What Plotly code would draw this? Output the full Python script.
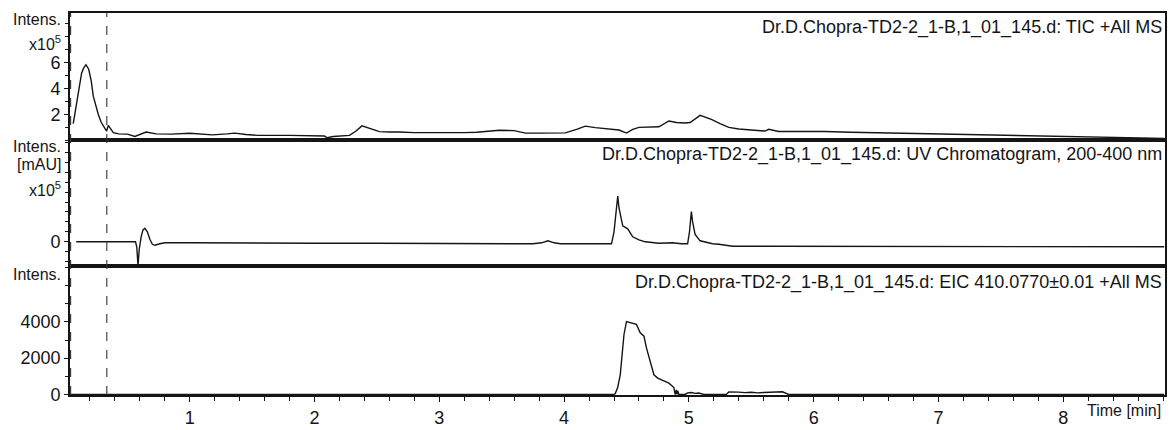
import plotly.graph_objects as go
from plotly.subplots import make_subplots

# ---------------- data ----------------
tic_time = [0.066, 0.08, 0.107, 0.133, 0.15, 0.168, 0.19, 0.21, 0.227, 0.25, 0.267, 0.29, 0.307, 0.333,
            0.347, 0.387, 0.43, 0.5, 0.56, 0.65, 0.73, 0.85, 1.0, 1.05, 1.18, 1.3, 1.36, 1.45, 1.55, 1.8,
            2.0, 2.08, 2.1, 2.15, 2.28, 2.33, 2.38, 2.45, 2.52, 2.6, 2.68, 2.8, 2.95, 3.08, 3.2, 3.3,
            3.4, 3.48, 3.6, 3.69, 3.8, 4.01, 4.1, 4.17, 4.25, 4.33, 4.44, 4.5, 4.55, 4.6, 4.7, 4.76,
            4.84, 4.9, 4.97, 5.01, 5.09, 5.14, 5.18, 5.25, 5.32, 5.4, 5.5, 5.61, 5.64, 5.68, 5.72,
            5.88, 6.09, 6.3, 6.5, 6.8, 7.03, 7.3, 7.67, 8.0, 8.3, 8.62, 8.81]
tic_int = [1.3, 2.1, 3.9, 5.2, 5.6, 5.85, 5.5, 4.6, 3.4, 2.5, 2.0, 1.4, 1.1, 0.72,
           1.15, 0.59, 0.5, 0.48, 0.3, 0.64, 0.5, 0.48, 0.55, 0.5, 0.42, 0.5, 0.56, 0.45, 0.38, 0.38,
           0.35, 0.33, 0.2, 0.3, 0.38, 0.7, 1.12, 0.9, 0.67, 0.64, 0.65, 0.6, 0.58, 0.56, 0.6, 0.62,
           0.72, 0.78, 0.75, 0.56, 0.56, 0.58, 0.85, 1.1, 0.98, 0.89, 0.8, 0.56, 0.85, 1.0, 1.0, 1.05,
           1.5, 1.38, 1.34, 1.38, 1.93, 1.78, 1.62, 1.3, 1.0, 0.88, 0.8, 0.72, 0.85, 0.78, 0.68,
           0.68, 0.68, 0.62, 0.58, 0.52, 0.48, 0.4, 0.33, 0.27, 0.22, 0.18, 0.15]

uv_time = [0.09, 0.3, 0.5, 0.565, 0.575, 0.585, 0.595, 0.61, 0.625, 0.64, 0.66, 0.68, 0.7, 0.72,
           0.76, 0.8, 1.0, 1.5, 2.0, 2.5, 3.0, 3.5, 3.75, 3.82, 3.87, 3.92, 3.97, 4.2, 4.38, 4.40,
           4.42, 4.43, 4.44, 4.46, 4.47, 4.51, 4.55, 4.6, 4.65, 4.76, 4.87, 4.94, 4.99, 5.005, 5.02,
           5.03, 5.05, 5.09, 5.19, 5.24, 5.35, 5.64, 6.0, 7.0, 8.0, 8.81]
uv_int = [0.0, 0.0, 0.0, 0.0, -0.1, -0.48, -0.15, 0.1, 0.24, 0.27, 0.2, 0.05, -0.05, -0.07,
          -0.04, -0.02, -0.02, -0.03, -0.03, -0.03, -0.03, -0.04, -0.04, -0.02, 0.02, -0.02, -0.04, -0.04, -0.04, 0.2,
          0.7, 0.92, 0.68, 0.4, 0.32, 0.26, 0.1, 0.04, 0.0, -0.03, -0.02, -0.04, -0.04, 0.2, 0.61,
          0.4, 0.15, 0.02, -0.04, -0.05, -0.09, -0.09, -0.09, -0.1, -0.1, -0.1]

eic_time = [0.04, 4.40, 4.41, 4.43, 4.45, 4.47, 4.48, 4.5, 4.53, 4.56, 4.58, 4.61, 4.64, 4.66, 4.69,
            4.72, 4.75, 4.78, 4.84, 4.88, 4.89, 4.9, 4.905, 4.91, 4.92, 4.97, 4.99, 5.02, 5.05, 5.08,
            5.12, 5.3, 5.32, 5.4, 5.45, 5.5, 5.55, 5.6, 5.65, 5.7, 5.75, 5.8, 6.0, 6.05, 6.1, 8.81]
eic_int = [0, 0, 50, 400, 1085, 2500, 3307, 4014, 3958, 3900, 3864, 3400, 3213, 2570, 1823,
           1085, 900, 806, 620, 380, 0, 250, 0, 200, 0, 0, 90, 110, 60, 80,
           0, 0, 140, 130, 100, 120, 90, 110, 130, 120, 150, 0, 0, 30, 0, 0]

x_ticks = [1, 2, 3, 4, 5, 6, 7, 8]
tic_ticks = [2, 4, 6]
uv_ticks = [0]
eic_ticks = [0, 2000, 4000]
marker_times = [0.045, 0.335]

titles = ["Dr.D.Chopra-TD2-2_1-B,1_01_145.d: TIC +All MS",
          "Dr.D.Chopra-TD2-2_1-B,1_01_145.d: UV Chromatogram, 200-400 nm",
          "Dr.D.Chopra-TD2-2_1-B,1_01_145.d: EIC 410.0770±0.01 +All MS"]

# ---------------- figure ----------------
FONT = "Liberation Sans, Arial, Helvetica, sans-serif"
INK = "#151515"
H_TOP, H_BOT = 13, 397
PH = H_BOT - H_TOP


def py(pix):
    return (H_BOT - pix) / PH


fig = make_subplots(rows=3, cols=1, shared_xaxes=True, vertical_spacing=0)
line = dict(color=INK, width=1.4)
fig.add_trace(go.Scatter(x=tic_time, y=tic_int, mode="lines", line=line, showlegend=False), row=1, col=1)
fig.add_trace(go.Scatter(x=uv_time, y=uv_int, mode="lines", line=line, showlegend=False), row=2, col=1)
fig.add_trace(go.Scatter(x=eic_time, y=eic_int, mode="lines", line=line, showlegend=False), row=3, col=1)

axis_common = dict(showline=True, linecolor=INK, linewidth=1.8, mirror=True, showgrid=False,
                   zeroline=False, tickfont=dict(family=FONT, size=18, color=INK))

fig.update_xaxes(range=[0.04, 8.816], **axis_common)
fig.update_xaxes(ticks="", showticklabels=False, row=1, col=1)
fig.update_xaxes(ticks="", showticklabels=False, row=2, col=1)
fig.update_xaxes(tickvals=x_ticks, ticktext=[str(v) for v in x_ticks], ticks="outside", ticklen=5,
                 tickwidth=1.3, tickcolor=INK,
                 minor=dict(dtick=0.2, tick0=0, ticks="outside", ticklen=4, tickwidth=1.2, tickcolor=INK),
                 row=3, col=1)

ycommon = dict(ticks="outside", ticklen=4, tickwidth=1.3, tickcolor=INK, **axis_common)
fig.update_yaxes(domain=[py(141), 1.0], range=[0, 9.85], tickvals=tic_ticks,
                 minor=dict(dtick=1, tick0=0, ticks="outside", ticklen=3, tickwidth=1.1, tickcolor=INK),
                 row=1, col=1, **ycommon)
fig.update_yaxes(domain=[py(267), py(141)], range=[-0.48, 2.04], tickvals=uv_ticks,
                 minor=dict(dtick=0.2, tick0=0, ticks="outside", ticklen=3, tickwidth=1.1, tickcolor=INK),
                 row=2, col=1, **ycommon)
fig.update_yaxes(domain=[0, py(267)], range=[-30, 7100], tickvals=eic_ticks,
                 minor=dict(dtick=1000, tick0=0, ticks="outside", ticklen=3, tickwidth=1.1, tickcolor=INK),
                 row=3, col=1, **ycommon)

for t in marker_times:
    fig.add_shape(type="line", xref="x", yref="paper", x0=t, x1=t, y0=0, y1=1,
                  line=dict(color="#333333", width=1.1, dash="dash"))

annos = []
lab = dict(xref="paper", yref="paper", x=0, xanchor="right", xshift=-7, yanchor="middle",
           showarrow=False, font=dict(family=FONT, size=16, color=INK))
for text, ypix in [("Intens.", 20), ("x10<sup>5</sup>", 43),
                   ("Intens.", 147), ("[mAU]", 165), ("x10<sup>5</sup>", 190),
                   ("Intens.", 276)]:
    annos.append(dict(text=text, y=py(ypix), **lab))

for text, ypix in zip(titles, [28, 155, 284]):
    annos.append(dict(text=text, xref="paper", yref="paper", x=1, xanchor="right", xshift=-1,
                      y=py(ypix), yanchor="middle", showarrow=False,
                      font=dict(family=FONT, size=18, color=INK)))

annos.append(dict(text="Time [min]", xref="paper", yref="paper", x=1, xanchor="right", xshift=-2,
                  y=py(413), yanchor="middle", showarrow=False,
                  font=dict(family=FONT, size=16, color=INK)))

fig.update_layout(width=1169, height=430, margin=dict(l=70, r=2, t=H_TOP, b=430 - H_BOT),
                  paper_bgcolor="white", plot_bgcolor="white", annotations=annos,
                  font=dict(family=FONT, color=INK))

fig.write_html("out.html")
